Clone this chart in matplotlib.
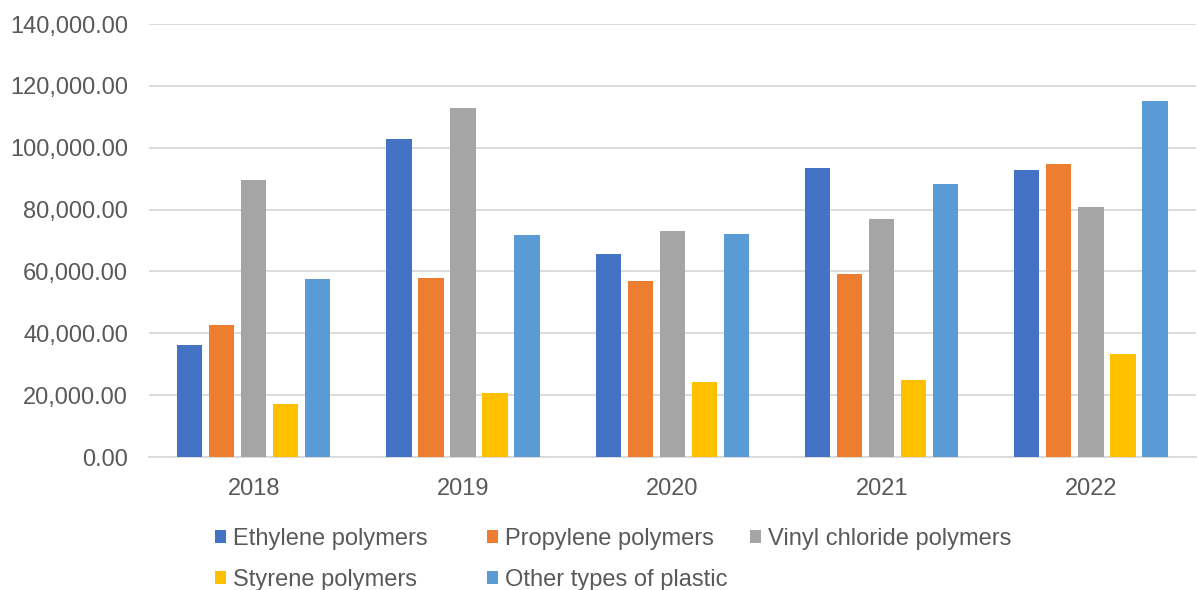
"""
Plastic imports by polymer type, 2018-2022, grouped bar chart.
"""

import matplotlib.pyplot as plt
import numpy as np
from matplotlib.ticker import FuncFormatter

plt.rcParams["font.family"] = ["Liberation Sans", "DejaVu Sans"]

years = ["2018", "2019", "2020", "2021", "2022"]
series_names = [
    "Ethylene polymers",
    "Propylene polymers",
    "Vinyl chloride polymers",
    "Styrene polymers",
    "Other types of plastic",
]
ethylene = [36140, 102920, 65680, 93380, 92950]
propylene = [42630, 57790, 57010, 59190, 94680]
vinyl_chloride = [89480, 112760, 73050, 76950, 80840]
styrene = [17210, 20650, 24120, 24870, 33210]
other_plastic = [57470, 71750, 72170, 88180, 115030]

colors = ["#4472C4", "#ED7D31", "#A5A5A5", "#FFC000", "#5B9BD5"]
text_color = "#595959"
grid_color = "#D9D9D9"
font_size = 17

fig = plt.figure(figsize=(11.98, 5.90), dpi=100)
ax = fig.add_axes([0.1244, 0.2254, 0.8736, 0.7339])

x = np.arange(len(years))
step = 0.153
width = 0.12
handles = []
all_series = [ethylene, propylene, vinyl_chloride, styrene, other_plastic]
for i, (name, values, color) in enumerate(zip(series_names, all_series, colors)):
    offset = (i - 2) * step
    bars = ax.bar(x + offset, values, width, color=color, label=name, zorder=3)
    handles.append(bars)

ax.set_xlim(-0.5, len(years) - 0.5)
ax.set_ylim(0, 140000)
ax.set_yticks(np.arange(0, 140001, 20000))
ax.yaxis.set_major_formatter(FuncFormatter(lambda v, _: f"{v:,.2f}"))
ax.set_xticks(x)
ax.set_xticklabels(years)

ax.grid(axis="y", color=grid_color, linewidth=1.3, zorder=0)
for side in ["top", "right", "left"]:
    ax.spines[side].set_visible(False)
ax.spines["bottom"].set_color(grid_color)
ax.spines["bottom"].set_linewidth(1.3)
ax.tick_params(axis="both", length=0, labelsize=font_size, labelcolor=text_color)
ax.tick_params(axis="y", pad=15)
ax.tick_params(axis="x", pad=15)

# one legend per column so the columns sit at fixed positions
columns = [([0, 3], 0.1795), ([1, 4], 0.4065), ([2], 0.626)]
for idx, x_anchor in columns:
    fig.legend(
        [handles[i] for i in idx],
        [series_names[i] for i in idx],
        loc="upper left",
        bbox_to_anchor=(x_anchor, 0.1045),
        frameon=False,
        fontsize=font_size,
        labelcolor=text_color,
        handlelength=0.47,
        handleheight=0.47,
        handletextpad=0.3,
        labelspacing=0.77,
        borderaxespad=0,
        borderpad=0,
    )

fig.savefig("out.png", dpi=100)
plt.close(fig)
